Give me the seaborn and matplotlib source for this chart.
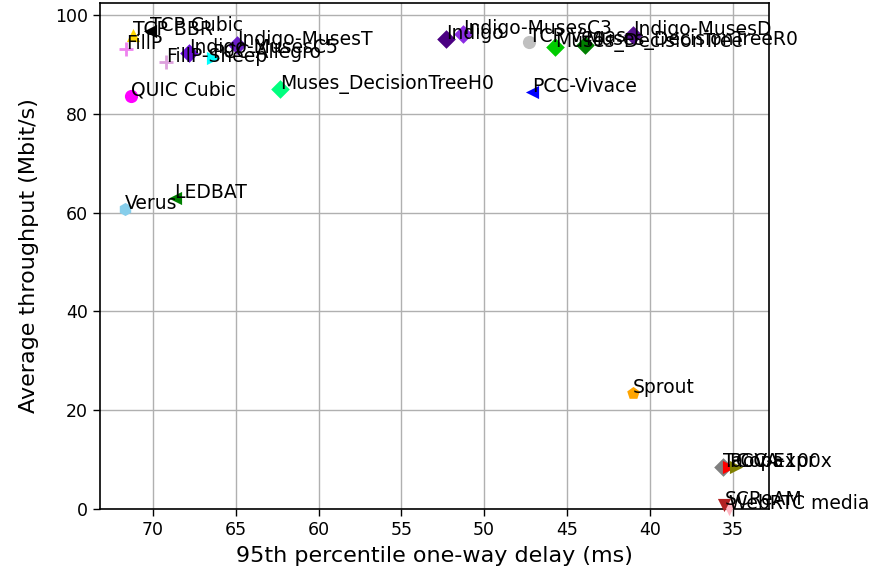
import matplotlib
matplotlib.use("Agg")
import matplotlib.pyplot as plt
import seaborn as sns
import pandas as pd

schemes = ["TCP Cubic", "TCP BBR", "FillP", "FillP-Sheep", "Indigo-MusesC5",
           "Indigo-MusesT", "PCC-Allegro", "QUIC Cubic", "Muses_DecisionTreeH0",
           "Indigo", "Indigo-MusesC3", "TCP Vegas", "Muses_DecisionTree",
           "Muses_DecisionTreeR0", "Indigo-MusesD", "PCC-Vivace", "Verus",
           "LEDBAT", "Sprout", "TaoVA-100x", "PCC-Expr", "Copa",
           "WebRTC media", "SCReAM"]
delay = [70.2, 71.2, 71.6, 69.2, 67.8, 64.9, 66.4, 71.3, 62.3,
         52.3, 51.3, 47.3, 45.7, 43.9, 41.0, 47.1, 71.7,
         68.7, 41.0, 35.6, 35.2, 34.8, 35.2, 35.5]
throughput = [96.7, 95.9, 93.0, 90.5, 92.2, 93.9, 91.2, 83.6, 84.9,
              95.2, 96.2, 94.5, 93.5, 93.9, 95.9, 84.4, 60.8,
              62.9, 23.4, 8.6, 8.4, 8.5, 0.0, 0.9]
colors = ["black", "gold", "violet", "plum", "#6a0fd8",
          "#6a1fc8", "cyan", "magenta", "springgreen",
          "#4b0082", "#8a2be2", "silver", "#00cc00",
          "green", "#55108f", "blue", "skyblue",
          "green", "orange", "grey", "red", "olive", "lightpink",
          "firebrick"]
markers = ["<", "^", "+", "+", "D", "D", ">", "o", "D",
           "D", "D", "o", "D", "D", "D", "<", "h",
           "<", "p", "D", ">", ">", "v", "v"]

df = pd.DataFrame({"scheme": schemes, "delay": delay, "tput": throughput})

sns.set_style("whitegrid", {"axes.edgecolor": "black", "grid.color": "#b0b0b0",
                            "xtick.bottom": True, "ytick.left": True,
                            "text.color": "black", "axes.labelcolor": "black",
                            "xtick.color": "black", "ytick.color": "black"})

fig = plt.figure(figsize=(8.77, 5.77), dpi=100)
ax = fig.add_axes([100/877, 1-509/577, 669/877, 506/577])

for i, row in df.iterrows():
    m = markers[i]
    kw = dict(linewidth=2) if m == "+" else dict(linewidth=0)
    sns.scatterplot(x=[row["delay"]], y=[row["tput"]], ax=ax, color=colors[i],
                    marker=m, s=90, clip_on=False, zorder=3, **kw)
    ax.annotate(row["scheme"], (row["delay"], row["tput"]), fontsize=13.5,
                color="black", annotation_clip=False, zorder=4)

ax.set_xlim(73.2, 32.8)
ax.set_ylim(0, 102.4)
ax.set_xticks([70, 65, 60, 55, 50, 45, 40, 35])
ax.set_yticks([0, 20, 40, 60, 80, 100])
ax.tick_params(labelsize=12.5, length=5, width=1, color="black", labelcolor="black")
for s in ax.spines.values():
    s.set_linewidth(1.2)
    s.set_color("black")
ax.grid(True, color="#b0b0b0", linewidth=1)
ax.set_xlabel("95th percentile one-way delay (ms)", fontsize=16, color="black",
              labelpad=5)
ax.set_ylabel("Average throughput (Mbit/s)", fontsize=16, color="black",
              labelpad=12)

fig.savefig("out.png", dpi=100)
